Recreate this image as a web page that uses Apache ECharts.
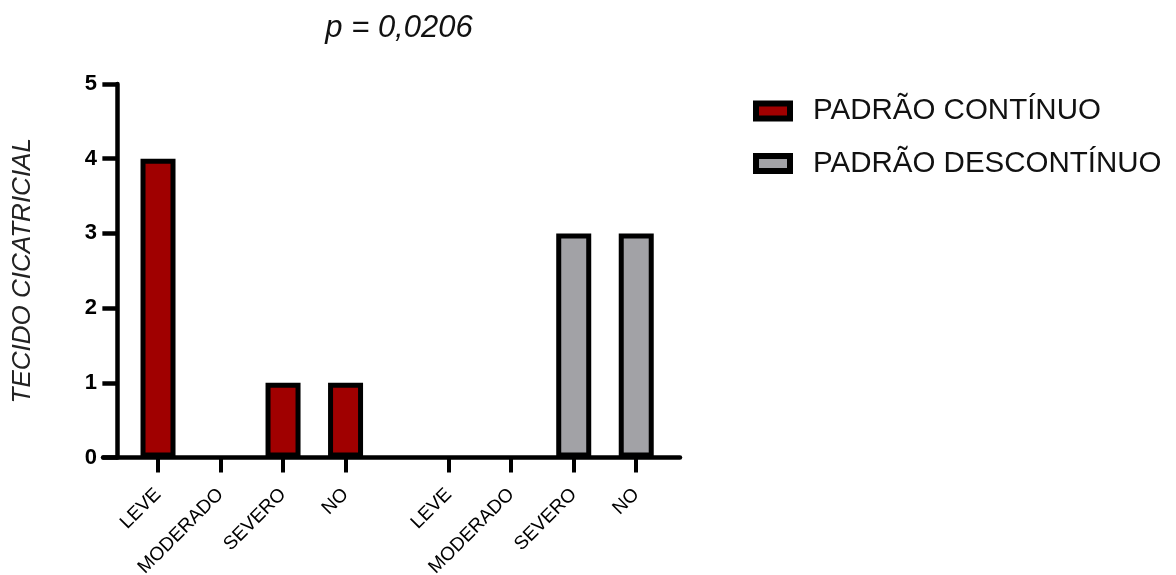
<!DOCTYPE html>
<html>
<head>
<meta charset="utf-8">
<script src="https://cdn.jsdelivr.net/npm/echarts@6/dist/echarts.min.js"></script>
<style>
  html, body { margin: 0; padding: 0; background: #fff; }
  #chart { width: 1176px; height: 575px; }
</style>
</head>
<body>
<div id="chart"></div>
<script>
// Severity categories, repeated for each pattern group
const categories = ['LEVE', 'MODERADO', 'SEVERO', 'NO'];
const groups = ['PADRÃO CONTÍNUO', 'PADRÃO DESCONTÍNUO'];
const continuoValues = [4, 0, 1, 1];
const descontinuoValues = [0, 0, 3, 3];
const yTicks = [0, 1, 2, 3, 4, 5];
const pTitle = 'p = 0,0206';
const yName = 'TECIDO CICATRICIAL';

const FONT = 'Liberation Sans, Arial, Helvetica, sans-serif';
const COLORS = ['#A00000', '#A2A2A6'];

// Slot layout on the x value axis: y axis sits at 0, groups are separated by a wider gap
const FIRST = 0.65;
const GROUP_GAP = 1.65;
function slot(g, i) {
  return FIRST + g * (categories.length - 1 + GROUP_GAP) + i;
}
const slots = [];
const slotLabels = [];
groups.forEach((g, gi) => categories.forEach((c, ci) => {
  slots.push(slot(gi, ci));
  slotLabels.push(c);
}));

function labelFor(v) {
  for (let k = 0; k < slots.length; k++) {
    if (Math.abs(slots[k] - v) < 1e-6) return slotLabels[k];
  }
  return '';
}

// Each series spans all slots (null outside its own group) so both share one bar column.
// Zero bars get no outline so nothing is drawn on the baseline.
function barData(values, g) {
  const out = [];
  groups.forEach((_, gi) => categories.forEach((c, ci) => {
    if (gi !== g) {
      out.push([slot(gi, ci), null]);
    } else {
      const v = values[ci];
      out.push({
        value: [slot(gi, ci), v],
        itemStyle: v === 0 ? { borderWidth: 0 } : undefined
      });
    }
  }));
  return out;
}

const chart = echarts.init(document.getElementById('chart'), null, { renderer: 'canvas' });

function barSeries(g, values) {
  return {
    type: 'bar',
    name: groups[g],
    color: COLORS[g],
    stack: 'pattern',
    barWidth: 35,
    barMinWidth: 35,
    itemStyle: { color: COLORS[g], borderColor: '#000', borderWidth: 5 },
    data: barData(values, g)
  };
}

chart.setOption({
  animation: false,
  backgroundColor: '#fff',
  title: {
    text: pTitle,
    left: 394,
    top: 8,
    textAlign: 'center',
    textStyle: { fontFamily: FONT, fontSize: 31, fontStyle: 'italic', fontWeight: 'normal', color: '#111' }
  },
  legend: {
    orient: 'vertical',
    left: 753,
    top: 96,
    padding: 0,
    icon: 'rect',
    itemWidth: 34,
    itemHeight: 15,
    itemGap: 22.5,
    itemStyle: { borderColor: '#000', borderWidth: 6 },
    textStyle: { fontFamily: FONT, fontSize: 29.5, color: '#111', lineHeight: 29, padding: [0, 0, 0, 18] },
    data: groups
  },
  grid: { left: 103, right: 496, top: 84, bottom: 117.5, containLabel: false, outerBoundsMode: 'none' },
  xAxis: {
    type: 'value',
    min: -0.23,
    max: 9,
    splitLine: { show: false },
    axisLine: { lineStyle: { color: '#000', width: 4.5 } },
    axisTick: { show: true, customValues: slots, length: 15, lineStyle: { color: '#000', width: 4 } },
    axisLabel: {
      customValues: slots,
      formatter: labelFor,
      rotate: 45,
      margin: 34,
      fontFamily: FONT,
      fontSize: 19,
      color: '#000'
    }
  },
  yAxis: {
    type: 'value',
    min: yTicks[0],
    max: yTicks[yTicks.length - 1],
    interval: 1,
    name: yName,
    nameLocation: 'middle',
    nameGap: 67,
    nameTextStyle: { fontFamily: FONT, fontSize: 26, fontStyle: 'italic', color: '#222' },
    splitLine: { show: false },
    axisLine: { onZero: true, lineStyle: { color: '#000', width: 4.5 } },
    axisTick: { show: true, length: 15, lineStyle: { color: '#000', width: 4.5 } },
    axisLabel: { margin: 6, fontFamily: FONT, fontSize: 22, fontWeight: 'bold', color: '#000' }
  },
  series: [
    barSeries(0, continuoValues),
    barSeries(1, descontinuoValues)
  ]
});
</script>
</body>
</html>
